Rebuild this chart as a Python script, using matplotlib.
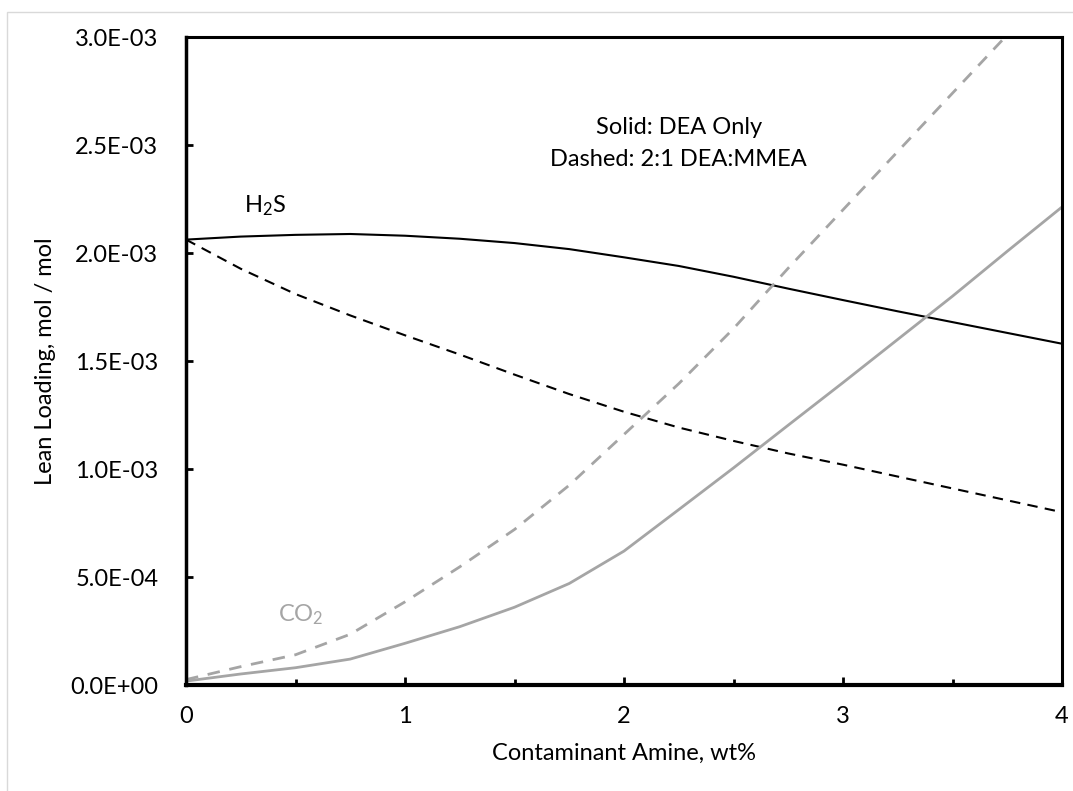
import matplotlib
matplotlib.use("Agg")
import matplotlib.pyplot as plt
from matplotlib.patches import Rectangle
from matplotlib.ticker import MultipleLocator, FuncFormatter

plt.rcParams['font.family'] = ['Lato', 'DejaVu Sans']
plt.rcParams['mathtext.default'] = 'regular'

# Contaminant amine, wt%
x = [0, 0.25, 0.5, 0.75, 1.0, 1.25, 1.5, 1.75, 2.0, 2.25, 2.5, 2.75, 3.0, 3.25, 3.5, 3.75, 4.0]
# Lean loading values (x1e-3 mol/mol)
h2s_dea = [2.062, 2.076, 2.084, 2.088, 2.080, 2.066, 2.046, 2.018, 1.980, 1.940, 1.890, 1.835,
           1.782, 1.730, 1.680, 1.630, 1.580]
h2s_mix = [2.062, 1.927, 1.810, 1.711, 1.619, 1.530, 1.437, 1.347, 1.265, 1.192, 1.130, 1.072,
           1.020, 0.965, 0.910, 0.855, 0.800]
co2_dea = [0.018, 0.051, 0.080, 0.120, 0.193, 0.270, 0.360, 0.470, 0.620, 0.812, 1.005, 1.203,
           1.400, 1.600, 1.800, 2.008, 2.213]
x_co2_mix = [0, 0.25, 0.5, 0.75, 1.0, 1.25, 1.5, 1.75, 2.0, 2.25, 2.5, 2.75, 3.0, 3.25, 3.5, 3.75]
co2_mix = [0.025, 0.085, 0.140, 0.235, 0.385, 0.547, 0.720, 0.925, 1.160, 1.395, 1.650, 1.930,
           2.200, 2.470, 2.740, 3.010]

scale = 1e-3
GRAY = '#A5A5A5'
FS = 17

fig = plt.figure(figsize=(10.73, 7.91), dpi=100)
ax = fig.add_axes([186/1073, 1-685/791, (1062-186)/1073, (685-37)/791])

ax.plot(x, [v*scale for v in h2s_dea], color='black', lw=1.5)
ax.plot(x, [v*scale for v in h2s_mix], color='black', lw=1.5, linestyle=(0, (5, 3.5)))
ax.plot(x, [v*scale for v in co2_dea], color=GRAY, lw=2.0)
ax.plot(x_co2_mix, [v*scale for v in co2_mix], color=GRAY, lw=2.0, linestyle=(0, (4.5, 3.5)))

ax.set_xlim(0, 4)
ax.set_ylim(0, 3.0e-3)

ax.xaxis.set_major_locator(MultipleLocator(1))
ax.xaxis.set_minor_locator(MultipleLocator(0.5))
ax.yaxis.set_major_locator(MultipleLocator(0.5e-3))
ax.xaxis.set_major_formatter(FuncFormatter(lambda v, p: f"{v:g}"))

def sci(v, p):
    s = f"{v:.1E}"
    mant, ex = s.split('E')
    sign = ex[0]
    num = int(ex[1:])
    return f"{mant}E{sign}{num:02d}"
ax.yaxis.set_major_formatter(FuncFormatter(sci))

ax.tick_params(axis='x', which='major', direction='in', length=6, width=2, labelsize=FS, pad=15, top=False)
ax.tick_params(axis='x', which='minor', direction='in', length=4, width=2, top=False)
ax.tick_params(axis='y', which='major', direction='in', length=5, width=2, labelsize=FS, pad=20, right=False)

ax.spines['bottom'].set_linewidth(3.0)
ax.spines['left'].set_linewidth(2.5)
ax.spines['top'].set_linewidth(2.2)
ax.spines['right'].set_linewidth(2.2)

ax.set_xlabel("Contaminant Amine, wt%", fontsize=FS)
ax.set_ylabel("Lean Loading, mol / mol", fontsize=FS)
ax.xaxis.set_label_coords(0.5, (685-743)/648)
ax.yaxis.set_label_coords((56-186)/876, 0.5)

ax.text(2.25, 2.58e-3, "Solid: DEA Only", fontsize=FS, ha='center', va='center')
ax.text(2.25, 2.435e-3, "Dashed: 2:1 DEA:MMEA", fontsize=FS, ha='center', va='center')
ax.text(0.265, 2.22e-3, "H$_{2}$S", fontsize=FS, ha='left', va='center')
ax.text(0.42, 0.324e-3, "CO$_{2}$", fontsize=FS, ha='left', va='center', color=GRAY)

fig.patches.append(Rectangle((7/1073, -0.05), 1.1, 1-12/791+0.05, transform=fig.transFigure,
                             fill=False, edgecolor='#D9D9D9', lw=1.0))

fig.savefig("out.png", dpi=100)
